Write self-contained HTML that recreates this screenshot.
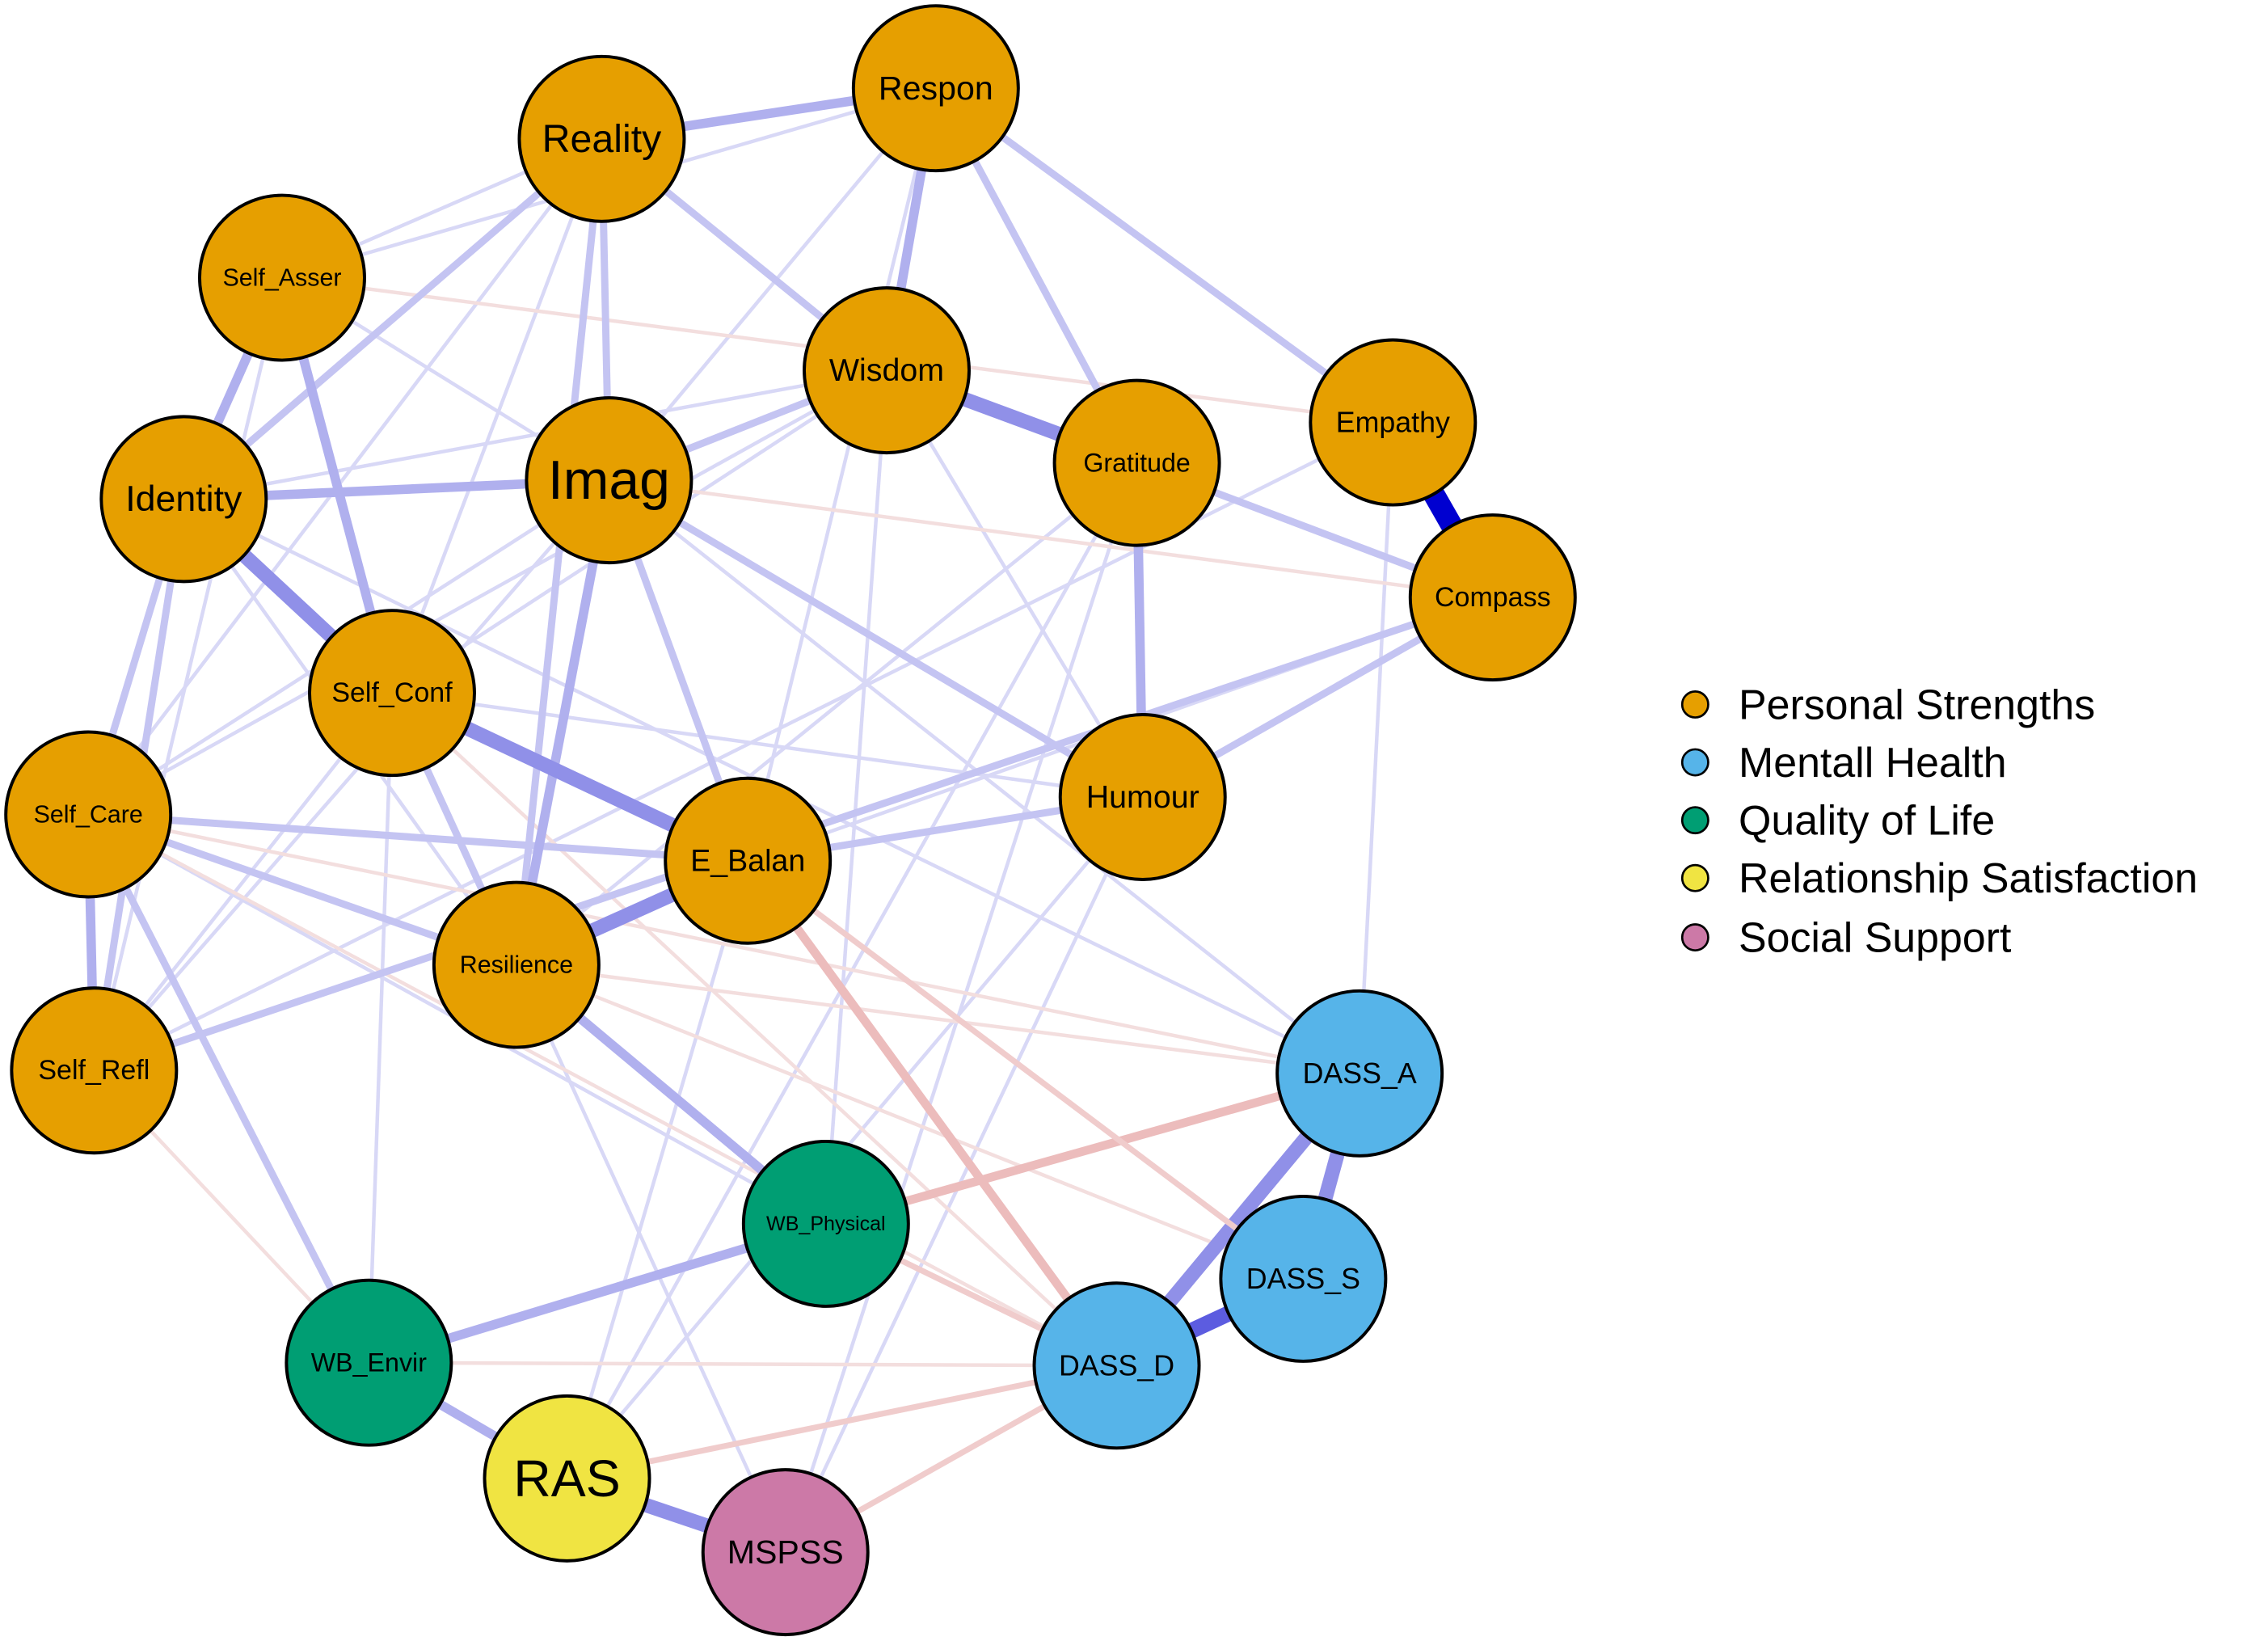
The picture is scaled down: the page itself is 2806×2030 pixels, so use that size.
<!DOCTYPE html>
<html><head><meta charset="utf-8"><style>html,body{margin:0;padding:0;background:#fff}svg{display:block}</style></head>
<body>
<svg width="2806" height="2030" viewBox="0 0 1568 1134.4" xmlns="http://www.w3.org/2000/svg" font-family="Liberation Sans, Arial, sans-serif">
<g stroke-linecap="butt" fill="none">
<!-- faint edges -->
<g stroke="#d8d8f6" stroke-width="2.5">
<line x1="416" y1="96" x2="195" y2="192"/><line x1="416" y1="96" x2="271" y2="479"/><line x1="416" y1="96" x2="61" y2="563"/>
<line x1="647" y1="61" x2="195" y2="192"/><line x1="647" y1="61" x2="421" y2="332"/><line x1="647" y1="61" x2="517" y2="595"/>
<line x1="647" y1="61" x2="786" y2="320"/><line x1="195" y1="192" x2="421" y2="332"/><line x1="613" y1="256" x2="127" y2="345"/>
<line x1="613" y1="256" x2="61" y2="563"/><line x1="613" y1="256" x2="790" y2="551"/><line x1="963" y1="292" x2="65" y2="740"/>
<line x1="963" y1="292" x2="940" y2="742"/><line x1="786" y1="320" x2="543" y2="1073"/><line x1="786" y1="320" x2="357" y2="667"/>
<line x1="1032" y1="413" x2="517" y2="595"/><line x1="271" y1="479" x2="790" y2="551"/><line x1="271" y1="479" x2="255" y2="942"/>
<line x1="61" y1="563" x2="571" y2="846"/><line x1="65" y1="740" x2="421" y2="332"/><line x1="790" y1="551" x2="543" y2="1073"/>
<line x1="790" y1="551" x2="392" y2="1022"/><line x1="517" y1="595" x2="392" y2="1022"/><line x1="357" y1="667" x2="543" y2="1073"/>
<line x1="127" y1="345" x2="940" y2="742"/><line x1="421" y1="332" x2="940" y2="742"/><line x1="195" y1="192" x2="65" y2="740"/>
<line x1="613" y1="256" x2="571" y2="846"/><line x1="271" y1="479" x2="65" y2="740"/><line x1="127" y1="345" x2="357" y2="667"/>
<line x1="421" y1="332" x2="61" y2="563"/><line x1="613" y1="256" x2="271" y2="479"/><line x1="786" y1="320" x2="392" y2="1022"/>
</g>
<g stroke="#f3dede" stroke-width="2.5">
<line x1="195" y1="192" x2="963" y2="292"/><line x1="421" y1="332" x2="1032" y2="413"/><line x1="61" y1="563" x2="940" y2="742"/>
<line x1="65" y1="740" x2="255" y2="942"/><line x1="357" y1="667" x2="940" y2="742"/><line x1="255" y1="942" x2="772" y2="944"/>
<line x1="271" y1="479" x2="772" y2="944"/><line x1="357" y1="667" x2="901" y2="884"/><line x1="61" y1="563" x2="772" y2="944"/>
</g>
<!-- medium blue -->
<g stroke="#c4c4f2" stroke-width="5">
<line x1="416" y1="96" x2="613" y2="256"/><line x1="416" y1="96" x2="421" y2="332"/><line x1="416" y1="96" x2="127" y2="345"/>
<line x1="416" y1="96" x2="357" y2="667"/><line x1="421" y1="332" x2="613" y2="256"/><line x1="421" y1="332" x2="517" y2="595"/>
<line x1="421" y1="332" x2="790" y2="551"/><line x1="61" y1="563" x2="517" y2="595"/><line x1="517" y1="595" x2="790" y2="551"/>
<line x1="786" y1="320" x2="1032" y2="413"/><line x1="647" y1="61" x2="786" y2="320"/><line x1="790" y1="551" x2="1032" y2="413"/>
<line x1="127" y1="345" x2="61" y2="563"/><line x1="127" y1="345" x2="65" y2="740"/><line x1="61" y1="563" x2="255" y2="942"/>
<line x1="61" y1="563" x2="357" y2="667"/><line x1="1032" y1="413" x2="65" y2="740"/><line x1="647" y1="61" x2="963" y2="292"/>
<line x1="271" y1="479" x2="357" y2="667"/>
</g>
<g stroke="#b0b0ee" stroke-width="6.5">
<line x1="416" y1="96" x2="647" y2="61"/><line x1="195" y1="192" x2="127" y2="345"/><line x1="61" y1="563" x2="65" y2="740"/>
<line x1="421" y1="332" x2="357" y2="667"/><line x1="786" y1="320" x2="790" y2="551"/><line x1="127" y1="345" x2="421" y2="332"/>
<line x1="647" y1="61" x2="613" y2="256"/><line x1="195" y1="192" x2="271" y2="479"/><line x1="255" y1="942" x2="571" y2="846"/>
<line x1="357" y1="667" x2="571" y2="846"/><line x1="255" y1="942" x2="392" y2="1022"/>
</g>
<g stroke="#9090e8" stroke-width="10">
<line x1="271" y1="479" x2="517" y2="595"/><line x1="127" y1="345" x2="271" y2="479"/><line x1="613" y1="256" x2="786" y2="320"/>
<line x1="517" y1="595" x2="357" y2="667"/><line x1="392" y1="1022" x2="543" y2="1073"/><line x1="940" y1="742" x2="772" y2="944"/>
<line x1="940" y1="742" x2="901" y2="884"/>
</g>
<line x1="772" y1="944" x2="901" y2="884" stroke="#5c5ce0" stroke-width="11"/>
<line x1="963" y1="292" x2="1032" y2="413" stroke="#0000d0" stroke-width="15"/>
<!-- red -->
<g stroke="#ecbcbc" stroke-width="6">
<line x1="517" y1="595" x2="772" y2="944"/><line x1="571" y1="846" x2="940" y2="742"/>
</g>
<g stroke="#f0cccc" stroke-width="4">
<line x1="543" y1="1073" x2="772" y2="944"/><line x1="392" y1="1022" x2="772" y2="944"/><line x1="571" y1="846" x2="772" y2="944"/>
<line x1="517" y1="595" x2="901" y2="884"/>
</g>
</g>
<g stroke="#000" stroke-width="2.2">
<g fill="#E69F00">
<circle cx="416" cy="96" r="57"/><circle cx="647" cy="61" r="57"/><circle cx="195" cy="192" r="57"/><circle cx="613" cy="256" r="57"/>
<circle cx="963" cy="292" r="57"/><circle cx="786" cy="320" r="57"/><circle cx="127" cy="345" r="57"/><circle cx="421" cy="332" r="57"/>
<circle cx="1032" cy="413" r="57"/><circle cx="271" cy="479" r="57"/><circle cx="790" cy="551" r="57"/><circle cx="61" cy="563" r="57"/>
<circle cx="517" cy="595" r="57"/><circle cx="357" cy="667" r="57"/><circle cx="65" cy="740" r="57"/>
</g>
<g fill="#56B4E9"><circle cx="940" cy="742" r="57"/><circle cx="901" cy="884" r="57"/><circle cx="772" cy="944" r="57"/></g>
<g fill="#009E73"><circle cx="571" cy="846" r="57"/><circle cx="255" cy="942" r="57"/></g>
<circle cx="392" cy="1022" r="57" fill="#F0E442"/>
<circle cx="543" cy="1073" r="57" fill="#CC79A7"/>
</g>
<g fill="#000" text-anchor="middle" dominant-baseline="central">
<text x="416" y="96" font-size="27">Reality</text><text x="647" y="61" font-size="23">Respon</text>
<text x="195" y="192" font-size="17">Self_Asser</text><text x="613" y="256" font-size="22">Wisdom</text>
<text x="963" y="292" font-size="20">Empathy</text><text x="786" y="320" font-size="18">Gratitude</text>
<text x="127" y="345" font-size="25">Identity</text><text x="421" y="332" font-size="38">Imag</text>
<text x="1032" y="413" font-size="19">Compass</text><text x="271" y="479" font-size="19">Self_Conf</text>
<text x="790" y="551" font-size="22">Humour</text><text x="61" y="563" font-size="17">Self_Care</text>
<text x="517" y="595" font-size="21">E_Balan</text><text x="357" y="667" font-size="17">Resilience</text>
<text x="65" y="740" font-size="19">Self_Refl</text><text x="940" y="742" font-size="20">DASS_A</text>
<text x="901" y="884" font-size="20">DASS_S</text><text x="772" y="944" font-size="20">DASS_D</text>
<text x="571" y="846" font-size="14">WB_Physical</text><text x="255" y="942" font-size="18">WB_Envir</text>
<text x="392" y="1022" font-size="36">RAS</text><text x="543" y="1073" font-size="23">MSPSS</text>
</g>
<g stroke="#000" stroke-width="1.5">
<circle cx="1172" cy="487" r="9" fill="#E69F00"/><circle cx="1172" cy="527" r="9" fill="#56B4E9"/>
<circle cx="1172" cy="567" r="9" fill="#009E73"/><circle cx="1172" cy="607" r="9" fill="#F0E442"/>
<circle cx="1172" cy="648" r="9" fill="#CC79A7"/>
</g>
<g font-size="29" fill="#000" dominant-baseline="central">
<text x="1202" y="487">Personal Strengths</text><text x="1202" y="527">Mentall Health</text>
<text x="1202" y="567">Quality of Life</text><text x="1202" y="607">Relationship Satisfaction</text>
<text x="1202" y="648">Social Support</text>
</g>
</svg>
</body></html>
